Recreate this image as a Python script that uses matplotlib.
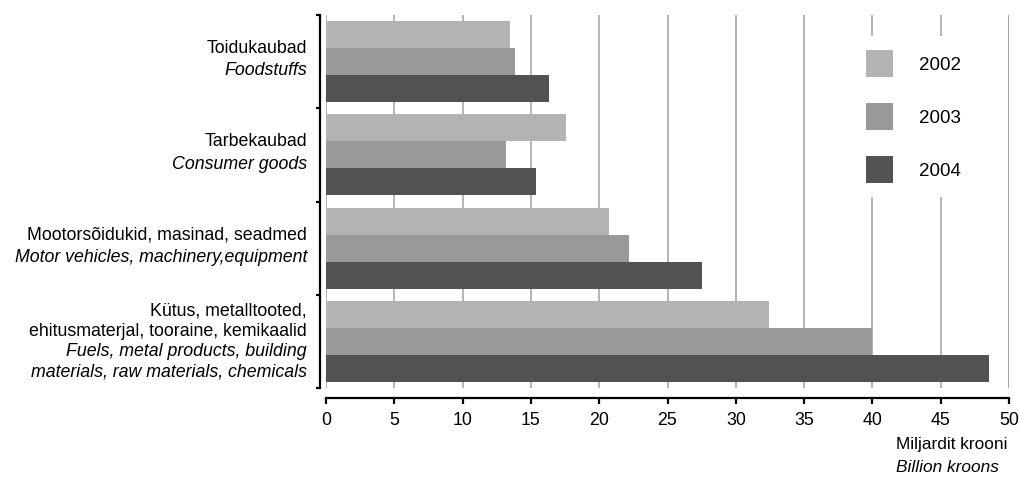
import numpy as np
import matplotlib
matplotlib.use("Agg")
import matplotlib.pyplot as plt

plt.rcParams["font.family"] = ["Liberation Sans", "DejaVu Sans"]

# category labels (Estonian lines, English lines)
labels_et = [
    ["Toidukaubad"],
    ["Tarbekaubad"],
    ["Mootorsõidukid, masinad, seadmed"],
    ["Kütus, metalltooted,", "ehitusmaterjal, tooraine, kemikaalid"],
]
labels_en = [
    ["Foodstuffs"],
    ["Consumer goods"],
    ["Motor vehicles, machinery,equipment"],
    ["Fuels, metal products, building", "materials, raw materials, chemicals"],
]
years = ["2002", "2003", "2004"]
values_2002 = [13.5, 17.6, 20.7, 32.4]
values_2003 = [13.8, 13.2, 22.2, 40.0]
values_2004 = [16.3, 15.4, 27.5, 48.5]
xticks = [0, 5, 10, 15, 20, 25, 30, 35, 40, 45, 50]

colors = ["#b3b3b3", "#999999", "#525252"]

W, H = 1019, 480
fig = plt.figure(figsize=(W / 100, H / 100), dpi=100)
ax = fig.add_axes([326 / W, 1 - 388 / H, (1009 - 326) / W, (388 - 15) / H])

y = np.arange(len(labels_et))
bh = 0.29
for i, (vals, c, yr) in enumerate(zip([values_2002, values_2003, values_2004], colors, years)):
    ax.barh(y + (i - 1) * bh, vals, height=bh, color=c, label=yr, zorder=2)

ax.set_xlim(0, 50)
ax.set_ylim(3.5, -0.5)
ax.set_xticks(xticks)
ax.set_yticks(np.arange(-0.5, 4, 1.0))
ax.set_yticklabels([])
ax.set_axisbelow(True)
ax.grid(axis="x", color="#a0a0a0", linewidth=1.1)
ax.axvline(50, color="#a0a0a0", linewidth=1.1, zorder=0)

for s in ["top", "right"]:
    ax.spines[s].set_visible(False)
ax.spines["left"].set_position(("outward", 4.3))
ax.spines["bottom"].set_position(("outward", 7.2))
for s in ["left", "bottom"]:
    ax.spines[s].set_linewidth(1.6)
ax.tick_params(axis="y", direction="out", length=3, width=1.6)
ax.tick_params(axis="x", direction="out", length=4, width=1.6, labelsize=12.8, pad=6)

# two-style category labels
fs = 12.8
for i in range(len(labels_et)):
    lines = [(t, "normal") for t in labels_et[i]] + [(t, "italic") for t in labels_en[i]]
    n = len(lines)
    step = 22.5 if n <= 2 else 20.5
    shift = 2 if n <= 2 else 0
    for k, (t, st) in enumerate(lines):
        off = ((n - 1) / 2 - k) * step
        ax.annotate(t, xy=(0, i), xycoords=ax.get_yaxis_transform(),
                    xytext=(-19, off + shift), textcoords="offset pixels",
                    ha="right", va="center", fontsize=fs, style=st)

fig.text(896 / W, 1 - 445 / H, "Miljardit krooni", fontsize=12.4, va="center", ha="left")
fig.text(896 / W, 1 - 467 / H, "Billion kroons", fontsize=12.4, va="center", ha="left",
         style="italic")

leg = ax.legend(loc="upper left", bbox_to_anchor=((852 - 326) / 683, 1 - (36 - 15) / 373),
                frameon=True, fancybox=False, edgecolor="none", facecolor="white",
                framealpha=1, fontsize=13.5, handlelength=1.44, handleheight=1.84,
                labelspacing=1.39, handletextpad=1.39, borderpad=0.75, borderaxespad=0)

fig.savefig("out.png", dpi=100)
